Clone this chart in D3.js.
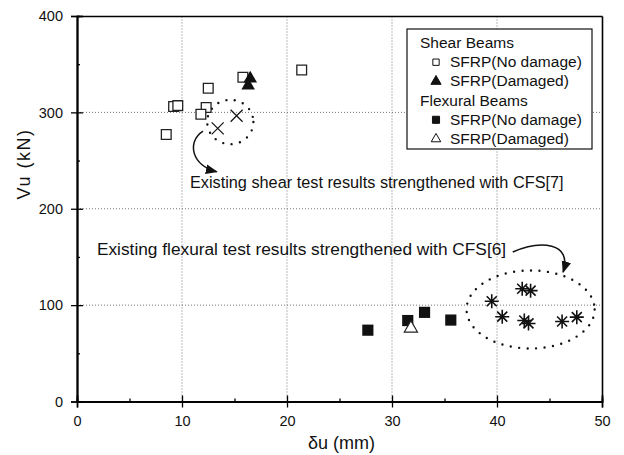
<!DOCTYPE html>
<html>
<head>
<meta charset="utf-8">
<script src="https://cdn.jsdelivr.net/npm/d3@7"></script>
<style>
  body { margin: 0; background: #fff; }
  text { font-family: "Liberation Sans", Arial, sans-serif; fill: #111; }
</style>
</head>
<body>
<div id="chart"></div>
<script>
// set the dimensions and margins
var width = 624,
    height = 455,
    margin = {top: 16, right: 22, bottom: 53.5, left: 77}

// data
var shearNoDmgX = [8.5, 9.2, 9.6, 12.5, 12.3, 11.8, 15.8, 21.4]
var shearNoDmgY = [277, 306, 307, 325, 305, 298, 336.5, 344]
var shearDmgX = [16.5, 16.3]
var shearDmgY = [335, 327.8]
var flexNoDmgX = [27.7, 31.5, 33.1, 35.6]
var flexNoDmgY = [74, 84, 92.5, 84.5]
var flexDmgX = [31.8]
var flexDmgY = [76]
var shearExistX = [15.2, 13.4]
var shearExistY = [296.5, 283.4]
var flexExistX = [39.5, 40.5, 42.4, 43.2, 42.6, 43.0, 46.2, 47.6]
var flexExistY = [104, 88, 117, 115, 84, 81, 83, 87.5]

var xTicks = [0, 10, 20, 30, 40, 50]
var yTicks = [0, 100, 200, 300, 400]
var legendLabels = ["Shear Beams", "SFRP(No damage)", "SFRP(Damaged)", "Flexural Beams", "SFRP(No damage)", "SFRP(Damaged)"]

var svg = d3.select("#chart")
  .append("svg")
    .attr("width", width)
    .attr("height", height)

var x = d3.scaleLinear().domain([0, 50]).range([margin.left, width - margin.right])
var y = d3.scaleLinear().domain([0, 400]).range([height - margin.bottom, margin.top])

// grid lines
svg.append("g").selectAll("line")
  .data([10, 20, 30, 40])
  .enter().append("line")
    .attr("x1", d => x(d)).attr("x2", d => x(d))
    .attr("y1", y(0)).attr("y2", y(400))
    .attr("stroke", "#777").attr("stroke-dasharray", "1,2")
svg.append("g").selectAll("line")
  .data([100, 200, 300])
  .enter().append("line")
    .attr("y1", d => y(d)).attr("y2", d => y(d))
    .attr("x1", x(0)).attr("x2", x(50))
    .attr("stroke", "#777").attr("stroke-dasharray", "1,2")

// axes: major ticks in & out, minor ticks inside
function styleAxis(g) {
  g.selectAll("path").attr("stroke", "#000").attr("stroke-width", 1.6)
  g.selectAll("line").attr("stroke", "#000").attr("stroke-width", 1.3)
  g.selectAll("text").style("font-size", "14.5px").style("font-family", "Liberation Sans, Arial, sans-serif").attr("fill", "#111")
}
svg.append("g").attr("transform", "translate(0," + y(0) + ")")
  .call(d3.axisBottom(x).tickValues(xTicks).tickSize(6).tickPadding(8))
  .call(styleAxis)
svg.append("g").attr("transform", "translate(0," + y(0) + ")")
  .call(d3.axisBottom(x).tickValues(xTicks).tickSize(-6).tickFormat(""))
  .call(styleAxis)
svg.append("g").attr("transform", "translate(0," + y(0) + ")")
  .call(d3.axisBottom(x).tickValues([5, 15, 25, 35, 45]).tickSize(-3).tickFormat(""))
  .call(styleAxis)
svg.append("g").attr("transform", "translate(" + x(0) + ",0)")
  .call(d3.axisLeft(y).tickValues(yTicks).tickSize(6).tickPadding(8))
  .call(styleAxis)
svg.append("g").attr("transform", "translate(" + x(0) + ",0)")
  .call(d3.axisLeft(y).tickValues(yTicks).tickSize(-6).tickFormat(""))
  .call(styleAxis)
svg.append("g").attr("transform", "translate(" + x(0) + ",0)")
  .call(d3.axisLeft(y).tickValues([50, 150, 250, 350]).tickSize(-3).tickFormat(""))
  .call(styleAxis)
// top and right frame
svg.append("g").attr("transform", "translate(0," + y(400) + ")")
  .call(d3.axisTop(x).tickValues([]).tickSizeOuter(0)).call(styleAxis)
svg.append("g").attr("transform", "translate(" + x(50) + ",0)")
  .call(d3.axisRight(y).tickValues([]).tickSizeOuter(0)).call(styleAxis)

// axis titles
svg.append("text")
  .attr("x", x(25) + 2).attr("y", 449)
  .attr("text-anchor", "middle")
  .style("font-size", "18px")
  .text("δu (mm)")
svg.append("text")
  .attr("transform", "translate(30,164) rotate(-90)")
  .attr("text-anchor", "middle")
  .style("font-size", "18px")
  .style("letter-spacing", "1.5px")
  .text("Vu (kN)")

// dotted ellipses around existing results
var ellipses = [[14.6, 290, 2.2, 23], [43.2, 95.5, 6.1, 40.5]]
svg.selectAll("ellipse")
  .data(ellipses)
  .enter().append("ellipse")
    .attr("cx", d => x(d[0])).attr("cy", d => y(d[1]))
    .attr("rx", d => x(d[2]) - x(0)).attr("ry", d => y(0) - y(d[3]))
    .attr("fill", "none").attr("stroke", "#111")
    .attr("stroke-width", 2.4).attr("stroke-linecap", "round")
    .attr("stroke-dasharray", "0,8.5")

// annotations
svg.append("defs").append("marker")
  .attr("id", "head").attr("viewBox", "0 0 10 10")
  .attr("refX", 9).attr("refY", 5)
  .attr("markerWidth", 8).attr("markerHeight", 8)
  .attr("orient", "auto")
  .append("path").attr("d", "M0,1 L10,5 L0,9 Z").attr("fill", "#111")

var arrows = [
  [[12.0, 280.6], [10.4, 269.2], [10.95, 244.3], [13.3, 238.5]],
  [[41.5, 155.1], [44.1, 167.5], [47.2, 165.5], [46.3, 134.3]]
]
svg.selectAll("path.arrow")
  .data(arrows)
  .enter().append("path")
    .attr("class", "arrow")
    .attr("d", d => "M" + x(d[0][0]) + "," + y(d[0][1]) +
      " C" + x(d[1][0]) + "," + y(d[1][1]) + " " + x(d[2][0]) + "," + y(d[2][1]) +
      " " + x(d[3][0]) + "," + y(d[3][1]))
    .attr("fill", "none").attr("stroke", "#111").attr("stroke-width", 1.5)
    .attr("marker-end", "url(#head)")

var notes = [
  [10.75, 221.5, "Existing shear test results strengthened with CFS[7]", 16.3],
  [1.9, 152, "Existing flexural test results strengthened with CFS[6]", 17.3]
]
svg.selectAll("text.note")
  .data(notes)
  .enter().append("text")
    .attr("class", "note")
    .attr("x", d => x(d[0])).attr("y", d => y(d[1]))
    .style("font-size", d => d[3] + "px")
    .text(d => d[2])

// markers
var square = d3.symbol().type(d3.symbolSquare)
var triangle = d3.symbol().type(d3.symbolTriangle)

function zip(xs, ys) { return xs.map((v, i) => [v, ys[i]]) }

svg.append("g").selectAll("path")
  .data(zip(shearNoDmgX, shearNoDmgY))
  .enter().append("path")
    .attr("d", square.size(95))
    .attr("transform", d => "translate(" + x(d[0]) + "," + y(d[1]) + ")")
    .attr("fill", "#fff").attr("stroke", "#222").attr("stroke-width", 1.3)
svg.append("g").selectAll("path")
  .data(zip(shearDmgX, shearDmgY))
  .enter().append("path")
    .attr("d", triangle.size(80))
    .attr("transform", d => "translate(" + x(d[0]) + "," + y(d[1]) + ")")
    .attr("fill", "#111")
svg.append("g").selectAll("path")
  .data(zip(flexNoDmgX, flexNoDmgY))
  .enter().append("path")
    .attr("d", square.size(125))
    .attr("transform", d => "translate(" + x(d[0]) + "," + y(d[1]) + ")")
    .attr("fill", "#111")
svg.append("g").selectAll("path")
  .data(zip(flexDmgX, flexDmgY))
  .enter().append("path")
    .attr("d", triangle.size(75))
    .attr("transform", d => "translate(" + x(d[0]) + "," + y(d[1]) + ")")
    .attr("fill", "#fff").attr("stroke", "#222").attr("stroke-width", 1.2)

// crosses for existing shear results
svg.append("g").selectAll("path")
  .data(zip(shearExistX, shearExistY))
  .enter().append("path")
    .attr("d", "M-6,-6L6,6M-6,6L6,-6")
    .attr("transform", d => "translate(" + x(d[0]) + "," + y(d[1]) + ")")
    .attr("stroke", "#111").attr("stroke-width", 1.2)

// asterisks for existing flexural results
svg.append("g").selectAll("path")
  .data(zip(flexExistX, flexExistY))
  .enter().append("path")
    .attr("d", "M0,-7L0,7M-7,0L7,0M-5,-5L5,5M-5,5L5,-5")
    .attr("transform", d => "translate(" + x(d[0]) + "," + y(d[1]) + ")")
    .attr("stroke", "#111").attr("stroke-width", 1.6)

// legend
var legend = svg.append("g").attr("transform", "translate(407,29)")
legend.append("rect")
  .attr("width", 185).attr("height", 120)
  .attr("fill", "#fff").attr("stroke", "#111").attr("stroke-width", 1.2)
legend.selectAll("text")
  .data(legendLabels)
  .enter().append("text")
    .attr("x", (d, i) => (i % 3 === 0) ? 13 : 43)
    .attr("y", (d, i) => 19 + i * 19.2)
    .style("font-size", "15.5px")
    .text(d => d)
var legendSymbols = [
  [1, square.size(40)(), "#fff"],
  [2, triangle.size(45)(), "#111"],
  [4, square.size(50)(), "#111"],
  [5, triangle.size(40)(), "#fff"]
]
legend.selectAll("path")
  .data(legendSymbols)
  .enter().append("path")
    .attr("d", d => d[1])
    .attr("transform", d => "translate(29," + (19 + d[0] * 19.2 - 5) + ")")
    .attr("fill", d => d[2]).attr("stroke", "#111").attr("stroke-width", 1)
</script>
</body>
</html>
